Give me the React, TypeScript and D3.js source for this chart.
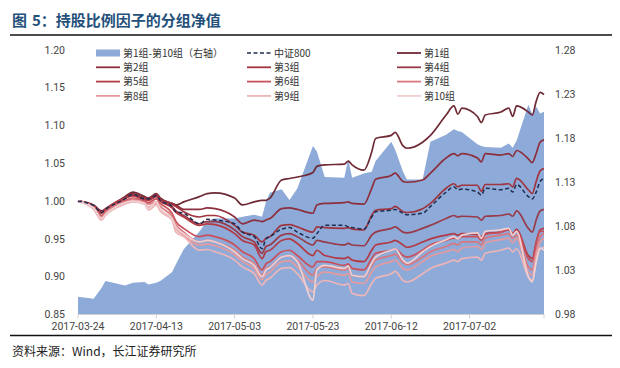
import React from 'react';
import * as d3 from 'd3';

// trading days (not every day, the visible turns)
const dates = [
  '2017-03-24', '2017-03-28', '2017-03-30', '2017-03-31', '2017-04-05', '2017-04-07', '2017-04-10', '2017-04-11', '2017-04-13', '2017-04-14',
  '2017-04-17', '2017-04-18', '2017-04-20', '2017-04-24', '2017-04-26', '2017-04-28', '2017-05-03', '2017-05-05', '2017-05-08', '2017-05-10',
  '2017-05-11', '2017-05-12', '2017-05-15', '2017-05-17', '2017-05-19', '2017-05-23', '2017-05-24', '2017-05-26', '2017-05-31', '2017-06-01',
  '2017-06-02', '2017-06-05', '2017-06-07', '2017-06-08', '2017-06-12', '2017-06-13', '2017-06-15', '2017-06-16', '2017-06-20', '2017-06-22',
  '2017-06-26', '2017-06-28', '2017-06-29', '2017-06-30', '2017-07-04', '2017-07-05', '2017-07-06', '2017-07-10', '2017-07-12', '2017-07-13',
  '2017-07-14', '2017-07-17', '2017-07-18', '2017-07-19', '2017-07-20', '2017-07-21',
];

// 第1组-第10组 (right axis)
const spread = [
  1.000, 0.998, 1.010, 1.018, 1.013, 1.016, 1.017, 1.014, 1.016, 1.018,
  1.028, 1.037, 1.054, 1.074, 1.086, 1.089, 1.089, 1.091, 1.093, 1.091,
  1.108, 1.118, 1.122, 1.110, 1.123, 1.171, 1.165, 1.136, 1.135, 1.156,
  1.135, 1.140, 1.142, 1.154, 1.176, 1.167, 1.142, 1.133, 1.133, 1.176,
  1.184, 1.190, 1.188, 1.187, 1.173, 1.171, 1.170, 1.169, 1.174, 1.169,
  1.177, 1.218, 1.207, 1.216, 1.208, 1.210,
];

const csi800 = [
  1.000, 0.994, 0.985, 0.989, 1.003, 1.009, 1.003, 1.003, 1.007, 1.001,
  0.993, 0.986, 0.984, 0.970, 0.976, 0.975, 0.970, 0.959, 0.953, 0.937,
  0.950, 0.953, 0.963, 0.965, 0.959, 0.951, 0.957, 0.968, 0.968, 0.966,
  0.965, 0.963, 0.979, 0.986, 0.988, 0.989, 0.984, 0.982, 0.984, 0.993,
  1.012, 1.019, 1.015, 1.016, 1.012, 1.008, 1.017, 1.015, 1.017, 1.012,
  1.022, 1.006, 1.003, 1.012, 1.026, 1.030,
];

const g1 = [
  1.000, 0.995, 0.987, 0.990, 1.006, 1.012, 1.006, 1.004, 1.010, 1.004,
  0.997, 0.995, 0.999, 1.006, 1.010, 1.011, 1.004, 0.995, 0.999, 1.001,
  1.001, 1.004, 1.028, 1.030, 1.032, 1.038, 1.046, 1.048, 1.049, 1.053,
  1.048, 1.041, 1.065, 1.083, 1.087, 1.091, 1.073, 1.070, 1.078, 1.087,
  1.114, 1.126, 1.115, 1.123, 1.112, 1.104, 1.114, 1.118, 1.123, 1.112,
  1.126, 1.118, 1.114, 1.132, 1.144, 1.141,
];
const g2 = [
  1.000, 0.994, 0.985, 0.989, 1.004, 1.010, 1.004, 1.004, 1.009, 1.004,
  0.997, 0.995, 0.989, 0.989, 0.991, 0.990, 0.979, 0.970, 0.975, 0.973,
  0.975, 0.977, 0.990, 0.991, 0.989, 0.984, 0.995, 0.997, 0.998, 0.999,
  0.997, 0.996, 1.017, 1.029, 1.034, 1.037, 1.026, 1.025, 1.028, 1.037,
  1.057, 1.063, 1.060, 1.063, 1.057, 1.052, 1.063, 1.061, 1.063, 1.059,
  1.067, 1.056, 1.051, 1.063, 1.078, 1.081,
];
const g3 = [
  1.000, 0.994, 0.985, 0.989, 1.004, 1.009, 1.004, 1.003, 1.008, 1.002,
  0.996, 0.993, 0.986, 0.979, 0.981, 0.981, 0.968, 0.959, 0.955, 0.946,
  0.951, 0.953, 0.968, 0.969, 0.966, 0.959, 0.966, 0.965, 0.964, 0.965,
  0.963, 0.962, 0.981, 0.988, 0.990, 0.993, 0.986, 0.985, 0.990, 0.997,
  1.017, 1.023, 1.019, 1.021, 1.021, 1.013, 1.022, 1.022, 1.023, 1.019,
  1.030, 1.015, 1.010, 1.026, 1.040, 1.043,
];
const g4 = [
  1.000, 0.994, 0.985, 0.989, 1.004, 1.008, 1.003, 1.002, 1.007, 1.001,
  0.993, 0.987, 0.981, 0.970, 0.973, 0.973, 0.962, 0.953, 0.946, 0.931,
  0.940, 0.942, 0.955, 0.957, 0.953, 0.942, 0.948, 0.946, 0.942, 0.944,
  0.942, 0.941, 0.955, 0.959, 0.964, 0.966, 0.959, 0.958, 0.964, 0.968,
  0.977, 0.981, 0.979, 0.980, 0.979, 0.975, 0.980, 0.981, 0.983, 0.980,
  0.987, 0.964, 0.959, 0.975, 0.987, 0.989,
];
const g5 = [
  1.000, 0.993, 0.984, 0.989, 1.004, 1.007, 1.002, 1.001, 1.006, 1.000,
  0.991, 0.985, 0.979, 0.968, 0.970, 0.969, 0.957, 0.948, 0.942, 0.924,
  0.933, 0.935, 0.948, 0.950, 0.944, 0.928, 0.935, 0.928, 0.924, 0.926,
  0.922, 0.920, 0.935, 0.942, 0.946, 0.948, 0.942, 0.939, 0.946, 0.950,
  0.955, 0.957, 0.955, 0.957, 0.956, 0.953, 0.957, 0.959, 0.962, 0.957,
  0.963, 0.928, 0.924, 0.946, 0.962, 0.964,
];
const g6 = [
  1.000, 0.992, 0.981, 0.987, 1.001, 1.004, 1.000, 0.998, 1.003, 0.997,
  0.984, 0.973, 0.964, 0.953, 0.955, 0.953, 0.942, 0.933, 0.924, 0.909,
  0.917, 0.920, 0.933, 0.935, 0.928, 0.913, 0.920, 0.920, 0.915, 0.917,
  0.911, 0.909, 0.924, 0.931, 0.935, 0.937, 0.928, 0.926, 0.935, 0.942,
  0.948, 0.951, 0.950, 0.953, 0.953, 0.948, 0.956, 0.959, 0.963, 0.957,
  0.960, 0.924, 0.920, 0.944, 0.960, 0.960,
];
const g7 = [
  1.000, 0.992, 0.979, 0.985, 0.999, 1.003, 0.998, 0.996, 0.999, 0.993,
  0.980, 0.969, 0.959, 0.946, 0.948, 0.946, 0.935, 0.926, 0.917, 0.902,
  0.911, 0.913, 0.926, 0.928, 0.922, 0.902, 0.911, 0.913, 0.909, 0.911,
  0.902, 0.900, 0.915, 0.922, 0.928, 0.930, 0.919, 0.916, 0.926, 0.933,
  0.940, 0.944, 0.942, 0.946, 0.946, 0.942, 0.951, 0.955, 0.957, 0.951,
  0.955, 0.913, 0.909, 0.933, 0.953, 0.957,
];
const g8 = [
  1.000, 0.990, 0.977, 0.982, 0.997, 1.001, 0.997, 0.992, 0.997, 0.989,
  0.977, 0.964, 0.955, 0.942, 0.943, 0.941, 0.929, 0.920, 0.911, 0.896,
  0.903, 0.906, 0.920, 0.921, 0.913, 0.893, 0.900, 0.906, 0.902, 0.904,
  0.893, 0.891, 0.906, 0.913, 0.920, 0.922, 0.911, 0.909, 0.920, 0.927,
  0.933, 0.936, 0.933, 0.938, 0.940, 0.936, 0.945, 0.949, 0.951, 0.945,
  0.951, 0.906, 0.902, 0.929, 0.946, 0.951,
];
const g9 = [
  1.000, 0.989, 0.975, 0.981, 0.996, 0.999, 0.996, 0.988, 0.995, 0.987,
  0.975, 0.959, 0.953, 0.935, 0.936, 0.933, 0.922, 0.913, 0.904, 0.889,
  0.895, 0.898, 0.911, 0.912, 0.904, 0.880, 0.889, 0.895, 0.889, 0.891,
  0.878, 0.875, 0.891, 0.898, 0.904, 0.907, 0.895, 0.893, 0.904, 0.911,
  0.918, 0.922, 0.920, 0.924, 0.926, 0.922, 0.931, 0.935, 0.938, 0.933,
  0.937, 0.900, 0.895, 0.920, 0.937, 0.939,
];
const g10 = [
  1.000, 0.991, 0.977, 0.982, 0.998, 1.000, 0.997, 0.990, 0.999, 0.990,
  0.977, 0.966, 0.957, 0.946, 0.948, 0.946, 0.933, 0.924, 0.915, 0.900,
  0.909, 0.912, 0.926, 0.928, 0.920, 0.869, 0.909, 0.915, 0.911, 0.914,
  0.902, 0.900, 0.918, 0.926, 0.935, 0.937, 0.922, 0.918, 0.933, 0.940,
  0.949, 0.953, 0.950, 0.955, 0.958, 0.951, 0.960, 0.962, 0.964, 0.955,
  0.960, 0.900, 0.893, 0.920, 0.938, 0.935,
];

const groupNames = ['第1组', '第2组', '第3组', '第4组', '第5组', '第6组', '第7组', '第8组', '第9组', '第10组'];
const groupColors = ['#6e2a35', '#8c2f3d', '#a0343f', '#983a48', '#b23a45', '#c9505a', '#d9777e', '#e59a9e', '#edb5b8', '#f0cfd0'];
const leftTicks = [0.85, 0.9, 0.95, 1.0, 1.05, 1.1, 1.15, 1.2];
const rightTicks = [0.98, 1.03, 1.08, 1.13, 1.18, 1.23, 1.28];
const xTickLabels = ['2017-03-24', '2017-04-13', '2017-05-03', '2017-05-23', '2017-06-12', '2017-07-02'];

const numFont = "Roboto, 'Noto Sans', sans-serif";
const cjkFont = "'Noto Sans CJK SC', 'Noto Sans', sans-serif";

export default function App() {
  const groups = [g1, g2, g3, g4, g5, g6, g7, g8, g9, g10];
  const parse = d3.timeParse('%Y-%m-%d');
  const xs = dates.map(d => parse(d) as Date);

  const left = 78, right = 544, top = 50, bottom = 314.5;
  const x = d3.scaleTime().domain([xs[0], xs[xs.length - 1]]).range([left, right]);
  const yL = d3.scaleLinear().domain([0.85, 1.2]).range([bottom, top]);
  const yR = d3.scaleLinear().domain([0.98, 1.28]).range([bottom, top]);

  const area = d3.area<number>()
    .x((_, i) => x(xs[i]))
    .y0(yR(0.98))
    .y1(d => yR(d));
  const line = d3.line<number>()
    .x((_, i) => x(xs[i]))
    .y(d => yL(d))
    .curve(d3.curveMonotoneX);

  const tickDates = xTickLabels.map(d => parse(d) as Date);

  // legend: 3 columns x 4 rows
  const legendItems = [
    { label: '第1组-第10组（右轴）', kind: 'area', color: '#8eaad8' },
    { label: '中证800', kind: 'dash', color: '#1f2d4f' },
    ...groupNames.map((n, i) => ({ label: n, kind: 'line', color: groupColors[i] })),
  ];
  const colX = [96, 247, 397];
  const rowY = [53, 67.3, 81.6, 95.9];

  return (
    <svg width={620} height={368} style={{ position: 'absolute', left: 0, top: 0, background: '#fff' }}>
      <text x={12} y={26} fontFamily={cjkFont} fontSize={15} fontWeight="bold" fill="#24507a">
        <tspan>图</tspan>
        <tspan dx={5}>5：持股比例因子的分组净值</tspan>
      </text>
      <line x1={10} x2={612} y1={35} y2={35} stroke="#111" strokeWidth={1.3} />

      <path d={area(spread) || ''} fill="#8eaad8" />

      {groups.map((g, i) => (
        <path key={i} d={line(g) || ''} fill="none" stroke={groupColors[i]} strokeWidth={1.7} />
      ))}
      <path d={line(csi800) || ''} fill="none" stroke="#1f2d4f" strokeWidth={1.5} strokeDasharray="4,2.5" />

      {/* x axis */}
      <line x1={left} x2={right} y1={bottom} y2={bottom} stroke="#d0d0d0" strokeWidth={1} />
      {[...tickDates, xs[xs.length - 1]].map((d, i) => (
        <line key={i} x1={x(d)} x2={x(d)} y1={bottom} y2={bottom + 4} stroke="#d0d0d0" />
      ))}
      {tickDates.map((d, i) => (
        <text key={i} x={x(d)} y={330} textAnchor="middle" fontFamily={numFont} fontSize={10.5} fill="#444">{xTickLabels[i]}</text>
      ))}

      {leftTicks.map(t => (
        <text key={t} x={65} y={yL(t)} dy="0.35em" textAnchor="end" fontFamily={numFont} fontSize={10.5} fill="#444">{t.toFixed(2)}</text>
      ))}
      {rightTicks.map(t => (
        <text key={t} x={555} y={yR(t)} dy="0.35em" textAnchor="start" fontFamily={numFont} fontSize={10.5} fill="#444">{t.toFixed(2)}</text>
      ))}

      {legendItems.map((it, i) => {
        const cx = colX[i % 3];
        const cy = rowY[Math.floor(i / 3)];
        return (
          <g key={i}>
            {it.kind === 'area' && <rect x={cx} y={cy - 3.5} width={24} height={7} fill={it.color} />}
            {it.kind === 'dash' && <line x1={cx} x2={cx + 24} y1={cy} y2={cy} stroke={it.color} strokeWidth={1.5} strokeDasharray="4,2.5" />}
            {it.kind === 'line' && <line x1={cx} x2={cx + 24} y1={cy} y2={cy} stroke={it.color} strokeWidth={1.8} />}
            <text x={cx + 27} y={cy} dy="0.36em" fontFamily={cjkFont} fontSize={10} fill="#333">{it.label}</text>
          </g>
        );
      })}

      <line x1={10} x2={612} y1={335.5} y2={335.5} stroke="#111" strokeWidth={1.3} />
      <text x={12} y={356} fontFamily={cjkFont} fontSize={12} fill="#222">资料来源：Wind，长江证券研究所</text>
    </svg>
  );
}
